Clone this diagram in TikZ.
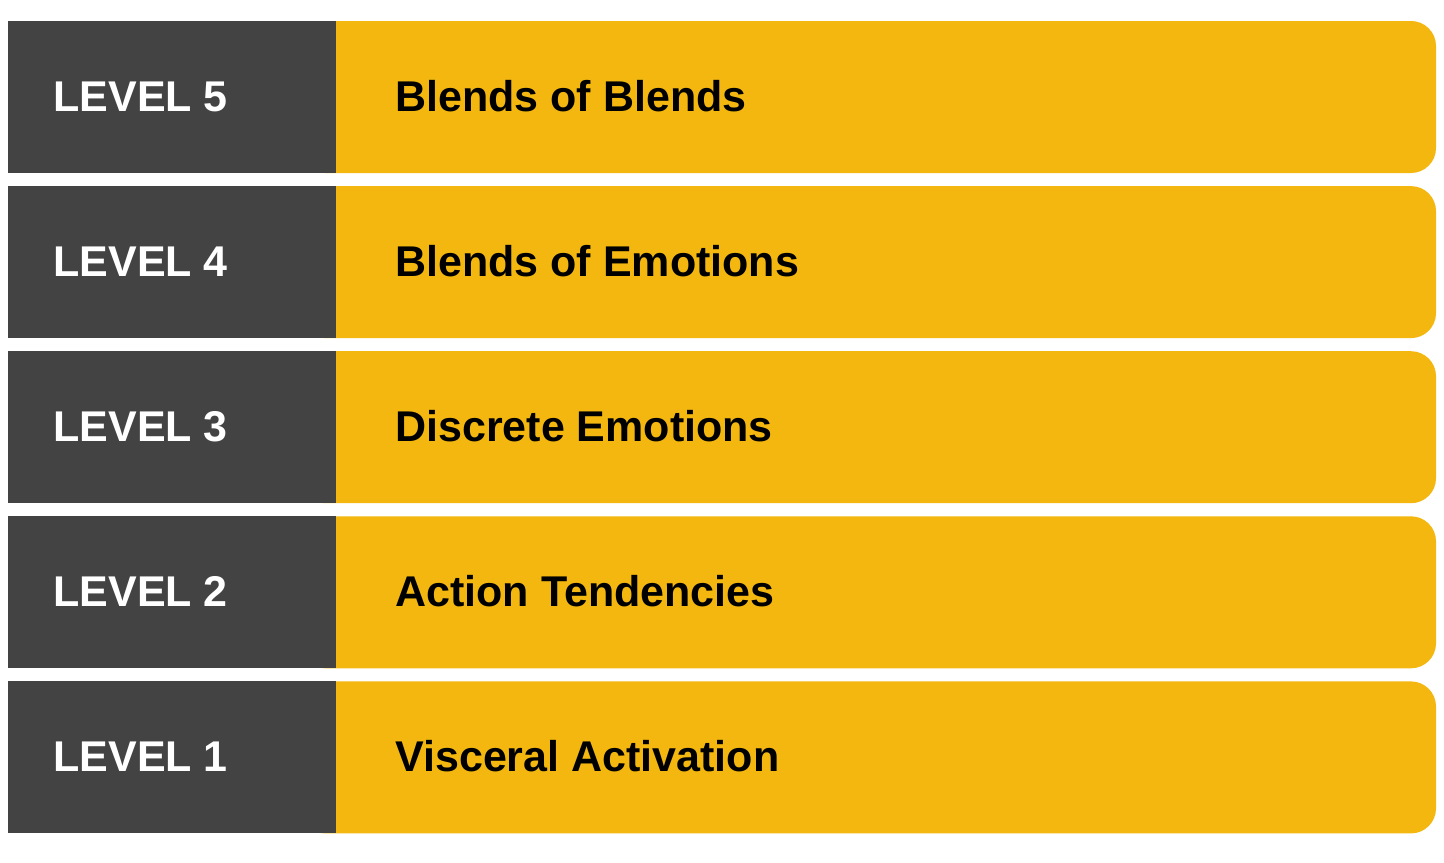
\documentclass[tikz,border=0pt]{standalone}
\usepackage{fontspec}
\setmainfont{Liberation Sans}
\definecolor{darkbox}{HTML}{434343}
\definecolor{yel}{HTML}{F3B710}
\begin{document}
\begin{tikzpicture}[x=0.5pt,y=-0.5pt,
  lvlbox/.style={fill=darkbox},
  catbox/.style={fill=yel,rounded corners=12.5pt},
  lvltext/.style={anchor=base west,inner sep=0pt,text=white,font=\fontsize{21.5pt}{24pt}\selectfont\bfseries},
  cattext/.style={anchor=base west,inner sep=0pt,text=black,font=\fontsize{21.5pt}{24pt}\selectfont\bfseries}]
\useasboundingbox (0,0) rectangle (1444,862);
\foreach \n/\t [count=\i from 0] in {5/Blends of Blends,4/Blends of Emotions,3/Discrete Emotions,2/Action Tendencies,1/Visceral Activation}{
  \pgfmathsetmacro{\top}{21+165.1*\i}
  \pgfmathsetmacro{\bot}{\top+152}
  \fill[catbox] (300,\top) rectangle (1436,\bot);
  \fill[lvlbox] (8,\top) rectangle (336,\bot);
  \node[lvltext] (lvl\n) at (53,\top+90) {LEVEL \n};
  \node[cattext] (cat\n) at (395,\top+90) {\t};
}
\end{tikzpicture}
\end{document}
